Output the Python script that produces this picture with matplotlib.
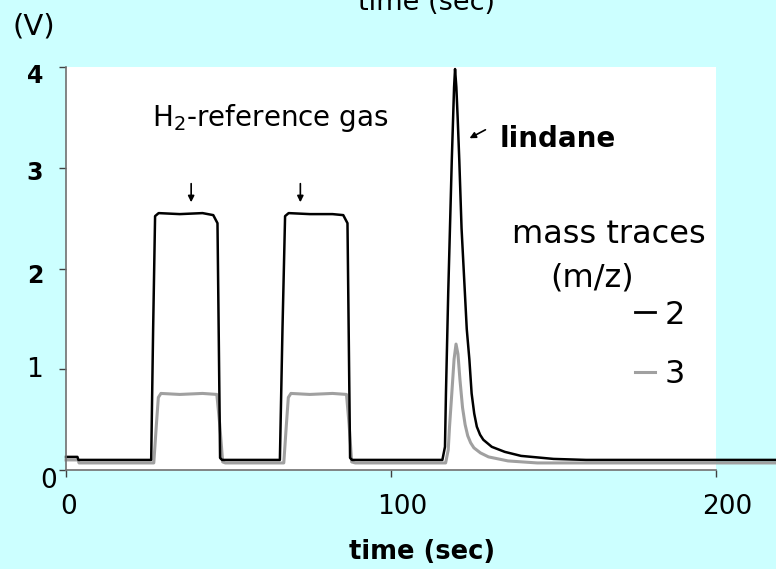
import matplotlib
matplotlib.use("Agg")
import matplotlib.pyplot as plt

# m/z 2 trace (black)
t2 = [0, 3.5, 3.8, 26.2, 26.8, 27.4, 28.5, 35, 42, 45.3, 46.6, 47.0, 47.4, 48,
      65.8, 66.6, 67.4, 68.5, 75, 82, 85.3, 86.6, 87.0, 87.4, 88,
      115.8, 116.6, 116.9, 117.6, 118.7, 119.4, 119.7, 120.1, 120.5, 121.0, 121.7, 122.5,
      123.3, 124.1, 124.8, 125.6, 126.4, 127.4, 128.4, 131, 135, 140, 150, 160, 200, 220]
v2 = [0.13, 0.13, 0.1, 0.1, 1.4, 2.52, 2.55, 2.54, 2.55, 2.53, 2.45, 1.3, 0.12, 0.1,
      0.1, 1.4, 2.52, 2.55, 2.54, 2.54, 2.53, 2.45, 1.3, 0.12, 0.1,
      0.1, 0.23, 0.76, 1.76, 3.08, 3.8, 3.98, 3.8, 3.5, 3.08, 2.4, 1.9,
      1.4, 1.1, 0.76, 0.56, 0.43, 0.35, 0.3, 0.23, 0.18, 0.14, 0.11, 0.1, 0.1, 0.1]

# m/z 3 trace (grey)
t3 = [0, 3.7, 4.0, 27.0, 27.8, 28.4, 29.2, 35, 42, 46.4, 47.3, 48.2, 49,
      67.0, 67.8, 68.4, 69.2, 75, 82, 86.3, 87.1, 87.9, 89,
      116.8, 117.6, 118.0, 118.7, 119.4, 120.0, 120.6, 121.2, 122.0, 122.8,
      123.6, 124.5, 125.5, 127.5, 130, 136, 145, 200, 220]
v3 = [0.1, 0.1, 0.07, 0.07, 0.45, 0.72, 0.76, 0.75, 0.76, 0.75, 0.45, 0.08, 0.07,
      0.07, 0.45, 0.72, 0.76, 0.75, 0.76, 0.75, 0.45, 0.08, 0.07,
      0.07, 0.2, 0.43, 0.76, 1.1, 1.25, 1.15, 0.9, 0.62, 0.45,
      0.34, 0.27, 0.22, 0.17, 0.13, 0.09, 0.07, 0.07, 0.07]

ref_arrows_t = [38.5, 72.1]
xticks = [0, 100, 200]
yticks = [0, 1, 2, 3, 4]
ytick_bold = [False, False, True, True, True]

bg = "#CCFFFF"
fig = plt.figure(figsize=(7.76, 5.69), dpi=100, facecolor=bg)
ax = fig.add_axes([0.0851, 0.1740, 0.8376, 0.7082])
ax.set_facecolor("white")

ax.plot(t3, v3, color="#a0a0a0", lw=2.2, clip_on=False, solid_joinstyle="round")
ax.plot(t2, v2, color="black", lw=1.8, clip_on=False, solid_joinstyle="round")

ax.set_xlim(0, 200)
ax.set_ylim(0, 4)
for s in ["top", "right"]:
    ax.spines[s].set_visible(False)
for s in ["left", "bottom"]:
    ax.spines[s].set_color("#707070")
    ax.spines[s].set_linewidth(1.2)
ax.set_xticks(xticks)
ax.set_yticks(yticks)
ax.tick_params(length=5, width=1, color="#404040", labelbottom=False, labelleft=False)

# tick labels (slightly offset like the original slide)
xoff = [3, 11, 11]
for x, dx in zip(xticks, xoff):
    ax.annotate(str(x), xy=(x, 0), xycoords=("data", "axes fraction"),
                xytext=(dx * 0.72, -37 * 0.72), textcoords="offset points",
                ha="center", va="center", fontsize=19, family="DejaVu Sans")
yoff = [(-9, -11), (-23, -1), (-23, -7), (-23, -5), (-23, -9)]
for y, b, (dx, dy) in zip(yticks, ytick_bold, yoff):
    ax.annotate(str(y), xy=(0, y), xycoords=("axes fraction", "data"),
                xytext=(dx * 0.72, dy * 0.72), textcoords="offset points",
                ha="right", va="center", fontsize=17 if b else 19,
                fontweight="bold" if b else "normal", family="DejaVu Sans")

# annotations
ax.text(26.5, 3.41, "H$_2$-reference gas", fontsize=20, va="baseline", ha="left")
for t in ref_arrows_t:
    ax.annotate("", xy=(t, 2.63), xytext=(t, 2.87),
                arrowprops=dict(arrowstyle="-|>", color="black", lw=1.2, mutation_scale=9))
ax.annotate("", xy=(123.4, 3.28), xytext=(129.8, 3.39),
            arrowprops=dict(arrowstyle="-|>", color="black", lw=1.2, mutation_scale=9))
ax.text(133.5, 3.21, "lindane", fontsize=20, fontweight="bold", va="baseline")
ax.text(137.2, 2.25, "mass traces", fontsize=23, va="baseline")
ax.text(161.8, 1.905, "(m/z)", fontsize=23, va="center", ha="center")
ax.plot([175.1, 181.2], [1.571, 1.571], color="black", lw=2, clip_on=False)
ax.text(184.3, 1.53, "2", fontsize=23, va="center")
ax.plot([175.1, 181.2], [0.976, 0.976], color="#a0a0a0", lw=2.2, clip_on=False)
ax.text(184.3, 0.943, "3", fontsize=23, va="center")

# top label is cut by the slide edge in the original
fig.text(0.549, 0.9824, "time (sec)", fontsize=19.5, ha="center", va="baseline")
fig.text(0.0438, 0.954, "(V)", fontsize=21, ha="center", va="center")
fig.text(0.5445, 0.0299, "time (sec)", fontsize=18.5, fontweight="bold",
         ha="center", va="center")

fig.savefig("out.png", dpi=100, facecolor=bg)
